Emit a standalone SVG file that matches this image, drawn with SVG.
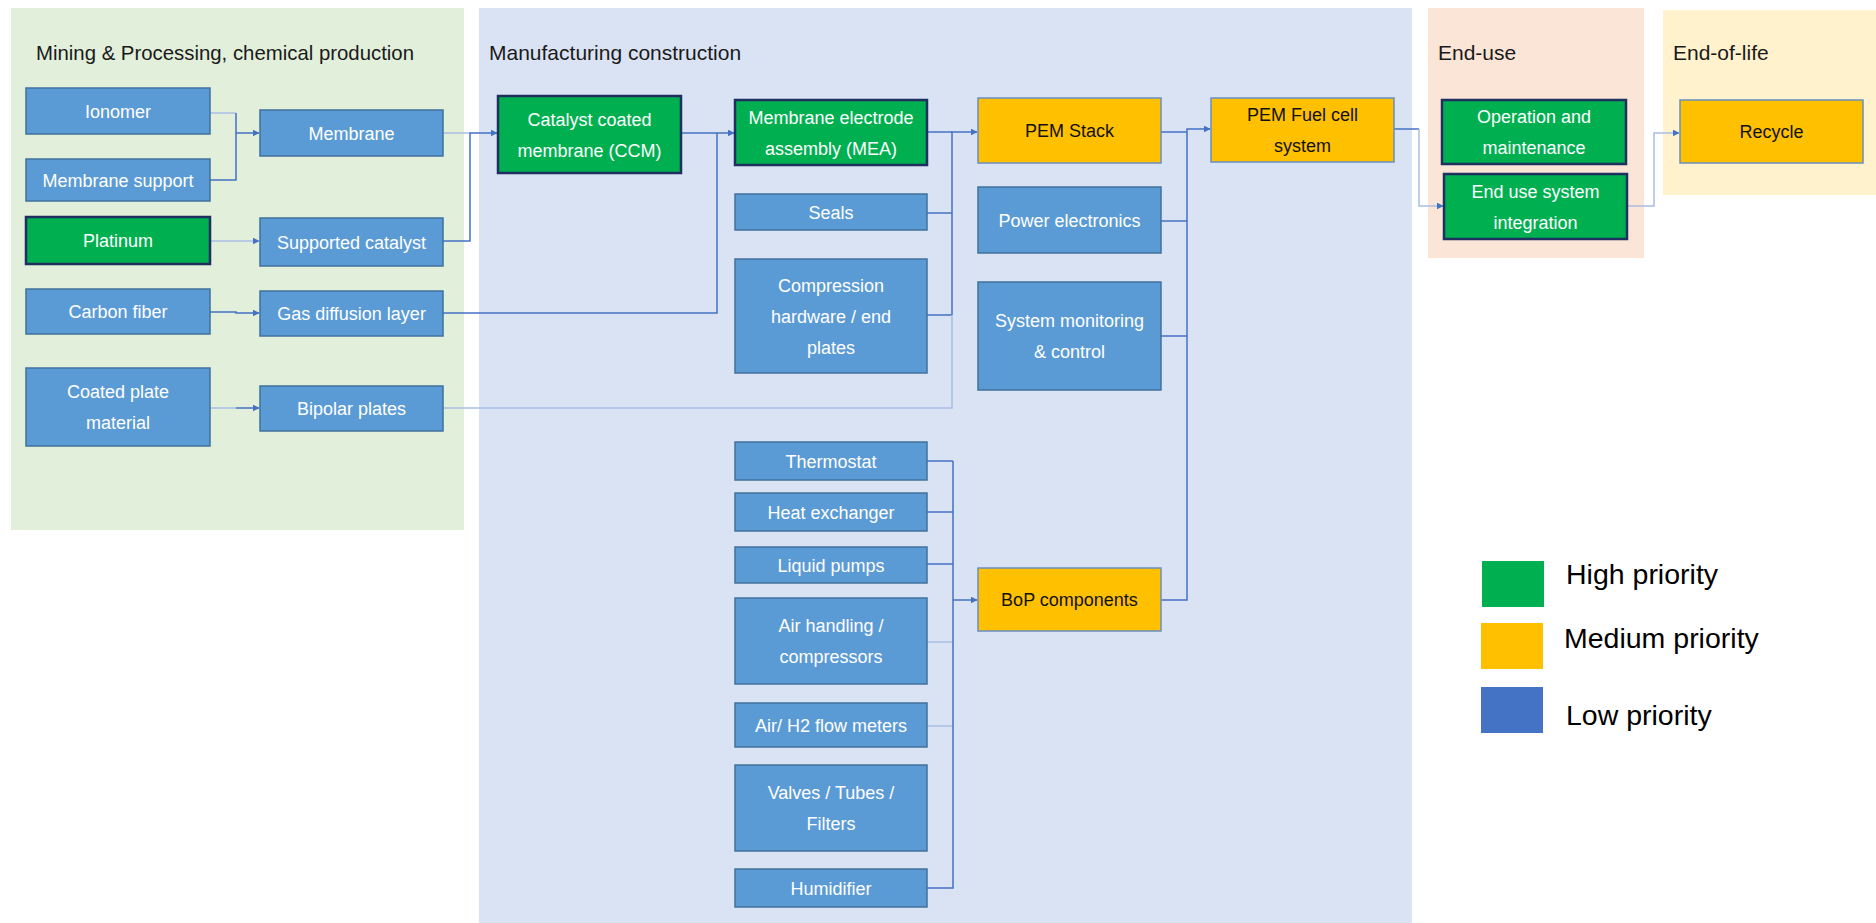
<svg xmlns="http://www.w3.org/2000/svg" width="1876" height="923" viewBox="0 0 1876 923">
  <style>
    .panel-title { font-family: "Liberation Sans", Arial, sans-serif; font-size: 21px; fill: #1a1a1a; }
    .node rect { stroke-width: 1.5; }
    .low rect { fill: #5B9BD5; stroke: #41719C; }
    .high rect { fill: #00B050; stroke: #1F2F5F; stroke-width: 2.5; }
    .med rect { fill: #FFC000; stroke: #6A8FC0; }
    .node text { font-family: "Liberation Sans", Arial, sans-serif; font-size: 18px; text-anchor: middle; }
    .low text, .high text { fill: #ffffff; }
    .med text { fill: #111111; }
    .conn { fill: none; stroke: #4472C4; stroke-width: 1.5; }
    .faint { fill: none; stroke: #A9BEE4; stroke-width: 1.5; }
    .legend-text { font-family: "Liberation Sans", Arial, sans-serif; font-size: 28.5px; fill: #000; }
  </style>
  <defs>
    <marker id="arrow" viewBox="0 0 10 10" refX="9" refY="5" markerWidth="7" markerHeight="7" orient="auto" markerUnits="userSpaceOnUse">
      <path d="M0,0 L10,5 L0,10 z" fill="#4472C4"/>
    </marker>
  </defs>

  <rect width="1876" height="923" fill="#ffffff"/>

  <!-- Stage panels -->
  <g id="panels">
    <rect x="11" y="8" width="453" height="522" fill="#E2EFDA"/>
    <rect x="479" y="8" width="933" height="915" fill="#DAE3F3"/>
    <rect x="1428" y="8" width="216" height="250" fill="#FBE5D6"/>
    <rect x="1663" y="10" width="213" height="185" fill="#FFF2CC"/>
    <text class="panel-title" x="36" y="60" textLength="378" lengthAdjust="spacingAndGlyphs">Mining &amp; Processing, chemical production</text>
    <text class="panel-title" x="489" y="60">Manufacturing construction</text>
    <text class="panel-title" x="1438" y="60">End-use</text>
    <text class="panel-title" x="1673" y="60">End-of-life</text>
  </g>

  <!-- Connectors -->
  <g id="connectors">
    <path class="faint" d="M210,113 H236"/>
    <path class="conn" d="M210,180 H236 V113"/>
    <path class="conn" d="M236,133 H259" marker-end="url(#arrow)"/>
    <path class="faint" d="M210,241 H259" marker-end="url(#arrow)"/>
    <path class="conn" d="M210,312 H236 V313 H259" marker-end="url(#arrow)"/>
    <path class="faint" d="M210,408 H236"/>
    <path class="conn" d="M236,408 H259" marker-end="url(#arrow)"/>

    <path class="faint" d="M443,133 H470"/>
    <path class="conn" d="M443,241 H470 V133 H497" marker-end="url(#arrow)"/>

    <path class="conn" d="M443,313 H717 V133"/>
    <path class="conn" d="M681,133 H717 H734" marker-end="url(#arrow)"/>

    <path class="conn" d="M927,132 H952"/>
    <path class="conn" d="M927,213 H952"/>
    <path class="conn" d="M927,315 H952"/>
    <path class="faint" d="M443,408 H952 V315"/>
    <path class="conn" d="M952,315 V132 H977" marker-end="url(#arrow)"/>

    <path class="conn" d="M1161,132 H1187"/>
    <path class="conn" d="M1161,221 H1187"/>
    <path class="conn" d="M1161,336 H1187"/>
    <path class="conn" d="M1161,600 H1187 V129 H1210" marker-end="url(#arrow)"/>

    <path class="conn" d="M1394,129 H1419"/>
    <path class="faint" d="M1419,129 V206 H1443" marker-end="url(#arrow)"/>

    <path class="faint" d="M1627,206 H1654 V133 H1679" marker-end="url(#arrow)"/>

    <path class="conn" d="M927,461 H953"/>
    <path class="conn" d="M927,512 H953"/>
    <path class="conn" d="M927,564 H953"/>
    <path class="faint" d="M927,642 H953"/>
    <path class="faint" d="M927,726 H953"/>
    <path class="conn" d="M927,888 H953 V461"/>
    <path class="conn" d="M953,600 H977" marker-end="url(#arrow)"/>
  </g>

  <!-- Mining & processing nodes -->
  <g id="ionomer" class="node low"><rect x="26" y="88" width="184" height="46"/><text x="118" y="117.5">Ionomer</text></g>
  <g id="membrane-support" class="node low"><rect x="26" y="159" width="184" height="42"/><text x="118" y="186.5">Membrane support</text></g>
  <g id="platinum" class="node high"><rect x="26" y="217" width="184" height="47"/><text x="118" y="247">Platinum</text></g>
  <g id="carbon-fiber" class="node low"><rect x="26" y="289" width="184" height="45"/><text x="118" y="318">Carbon fiber</text></g>
  <g id="coated-plate" class="node low"><rect x="26" y="368" width="184" height="78"/><text x="118" y="398">Coated plate</text><text x="118" y="429">material</text></g>

  <g id="membrane" class="node low"><rect x="260" y="110" width="183" height="46"/><text x="351.5" y="139.5">Membrane</text></g>
  <g id="supported-catalyst" class="node low"><rect x="260" y="218" width="183" height="48"/><text x="351.5" y="248.5">Supported catalyst</text></g>
  <g id="gas-diffusion" class="node low"><rect x="260" y="291" width="183" height="45"/><text x="351.5" y="320">Gas diffusion layer</text></g>
  <g id="bipolar-plates" class="node low"><rect x="260" y="386" width="183" height="45"/><text x="351.5" y="415">Bipolar plates</text></g>

  <!-- Manufacturing nodes -->
  <g id="ccm" class="node high"><rect x="498" y="96" width="183" height="77"/><text x="589.5" y="125.5">Catalyst coated</text><text x="589.5" y="156.5">membrane (CCM)</text></g>
  <g id="mea" class="node high"><rect x="735" y="100" width="192" height="65"/><text x="831" y="123.5">Membrane electrode</text><text x="831" y="154.5">assembly (MEA)</text></g>
  <g id="seals" class="node low"><rect x="735" y="194" width="192" height="36"/><text x="831" y="218.5">Seals</text></g>
  <g id="compression" class="node low"><rect x="735" y="259" width="192" height="114"/><text x="831" y="291.5">Compression</text><text x="831" y="322.5">hardware / end</text><text x="831" y="353.5">plates</text></g>

  <g id="pem-stack" class="node med"><rect x="978" y="98" width="183" height="65"/><text x="1069.5" y="137">PEM Stack</text></g>
  <g id="power-electronics" class="node low"><rect x="978" y="187" width="183" height="66"/><text x="1069.5" y="226.5">Power electronics</text></g>
  <g id="system-monitoring" class="node low"><rect x="978" y="282" width="183" height="108"/><text x="1069.5" y="327">System monitoring</text><text x="1069.5" y="358">&amp; control</text></g>
  <g id="bop" class="node med"><rect x="978" y="568" width="183" height="63"/><text x="1069.5" y="606">BoP components</text></g>

  <g id="fuel-cell-system" class="node med"><rect x="1211" y="98" width="183" height="64"/><text x="1302.5" y="121">PEM Fuel cell</text><text x="1302.5" y="152">system</text></g>

  <g id="thermostat" class="node low"><rect x="735" y="442" width="192" height="38"/><text x="831" y="467.5">Thermostat</text></g>
  <g id="heat-exchanger" class="node low"><rect x="735" y="493" width="192" height="38"/><text x="831" y="518.5">Heat exchanger</text></g>
  <g id="liquid-pumps" class="node low"><rect x="735" y="547" width="192" height="36"/><text x="831" y="571.5">Liquid pumps</text></g>
  <g id="air-handling" class="node low"><rect x="735" y="598" width="192" height="86"/><text x="831" y="632">Air handling /</text><text x="831" y="663">compressors</text></g>
  <g id="flow-meters" class="node low"><rect x="735" y="703" width="192" height="44"/><text x="831" y="731.5">Air/ H2 flow meters</text></g>
  <g id="valves" class="node low"><rect x="735" y="765" width="192" height="86"/><text x="831" y="799">Valves / Tubes /</text><text x="831" y="830">Filters</text></g>
  <g id="humidifier" class="node low"><rect x="735" y="869" width="192" height="38"/><text x="831" y="894.5">Humidifier</text></g>

  <!-- End-use and end-of-life nodes -->
  <g id="operation" class="node high"><rect x="1442" y="100" width="184" height="64"/><text x="1534" y="123">Operation and</text><text x="1534" y="154">maintenance</text></g>
  <g id="integration" class="node high"><rect x="1444" y="174" width="183" height="65"/><text x="1535.5" y="197.5">End use system</text><text x="1535.5" y="228.5">integration</text></g>
  <g id="recycle" class="node med"><rect x="1680" y="100" width="183" height="63"/><text x="1771.5" y="138">Recycle</text></g>

  <!-- Legend -->
  <g id="legend">
    <rect x="1482" y="561" width="62" height="46" fill="#00B050"/>
    <rect x="1481" y="623" width="62" height="46" fill="#FFC000"/>
    <rect x="1481" y="687" width="62" height="46" fill="#4472C4"/>
    <text class="legend-text" x="1566" y="584">High priority</text>
    <text class="legend-text" x="1564" y="648">Medium priority</text>
    <text class="legend-text" x="1566" y="725">Low priority</text>
  </g>
</svg>
